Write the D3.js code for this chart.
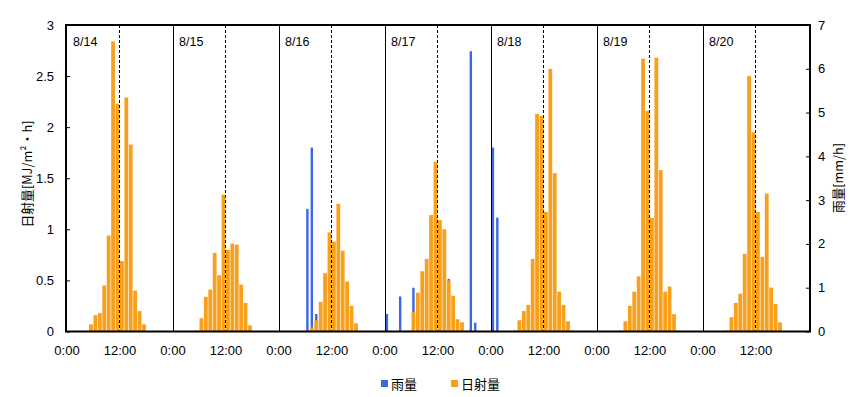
<!DOCTYPE html>
<html><head><meta charset="utf-8">
<script src="https://cdn.jsdelivr.net/npm/d3@7"></script>
<style>
html,body{margin:0;padding:0;background:#fff;}
svg{display:block;}
text{font-family:"Liberation Sans",Arial,sans-serif;fill:#000;}
.jp{font-family:"Noto Sans CJK JP","Noto Sans",sans-serif;}
</style></head>
<body>
<svg id="chart" width="865" height="397"></svg>
<script>
// ---- data ----
const days = ["8/14","8/15","8/16","8/17","8/18","8/19","8/20"];
const solarStartHour = 5; // first value in each day's array is 5:00
const solar_0814 = [0.07,0.16,0.18,0.45,0.94,2.84,2.23,0.69,2.29,1.83,0.40,0.20,0.07,0];
const solar_0815 = [0.01,0.13,0.34,0.41,0.77,0.55,1.34,0.80,0.86,0.85,0.46,0.28,0.06,0];
const solar_0816 = [0,0,0.04,0.11,0.29,0.57,0.97,0.88,1.25,0.79,0.49,0.25,0.08,0];
const solar_0817 = [0.01,0.19,0.38,0.59,0.71,1.14,1.66,1.09,1.00,0.50,0.35,0.12,0.09,0.01];
const solar_0818 = [0.01,0.11,0.20,0.26,0.71,2.13,2.11,1.17,2.57,1.55,0.39,0.26,0.10,0.01];
const solar_0819 = [0.01,0.10,0.25,0.39,0.54,2.67,2.16,1.11,2.68,1.58,0.39,0.44,0.17,0.01];
const solar_0820 = [0.01,0.14,0.28,0.37,0.76,2.50,1.95,1.17,0.73,1.35,0.43,0.27,0.09,0];
const rainDay  = ["8/16","8/16","8/16","8/17","8/17","8/17","8/17","8/17","8/17","8/18","8/18"];
const rainHour = [6,7,8,0,3,6,14,19,20,0,1];
const rainMm   = [2.8,4.2,0.4,0.4,0.8,1.0,1.2,6.4,0.2,4.2,2.6];
const leftTicks  = [0,0.5,1,1.5,2,2.5,3];
const leftTickLabels = ["0","0.5","1","1.5","2","2.5","3"];
const rightTicks = [0,1,2,3,4,5,6,7];
const xTickLabels = ["0:00","12:00"];
const leftTitle = "日射量[MJ/m²・h]";
const rightTitle = "雨量[mm/h]";
const legendLabels = ["雨量","日射量"];

const solarAll = [solar_0814,solar_0815,solar_0816,solar_0817,solar_0818,solar_0819,solar_0820];
const solarData = [];
solarAll.forEach((arr,d)=>arr.forEach((v,i)=>solarData.push({t:d*24+solarStartHour+i, v})));
const rainData = rainMm.map((v,i)=>({t:days.indexOf(rainDay[i])*24+rainHour[i], v}));

// ---- layout ----
const svg = d3.select("#chart");
const x = d3.scaleLinear().domain([0,168]).range([67,809]);
const yL = d3.scaleLinear().domain([0,3]).range([331.5,25]);
const yR = d3.scaleLinear().domain([0,7]).range([331.5,25]);
const orange = "#F8A01C", blue = "#3A68E2";

// bars (rain behind, solar in front)
svg.append("g").selectAll("rect").data(rainData).join("rect")
  .attr("x", d=>x(d.t+0.5)-1.2-0.3).attr("width",2.4)
  .attr("y", d=>yR(d.v)).attr("height", d=>yR(0)-yR(d.v))
  .attr("fill", blue);
svg.append("g").selectAll("rect").data(solarData.filter(d=>d.v>0)).join("rect")
  .attr("x", d=>x(d.t+0.5)-1.9-0.3).attr("width",3.8)
  .attr("y", d=>yL(d.v)).attr("height", d=>yL(0)-yL(d.v))
  .attr("fill", orange);

// day separators and noon dashed lines
const g = svg.append("g");
days.forEach((dname,d)=>{
  if(d>0) g.append("line").attr("x1",Math.round(x(d*24))+0.5).attr("x2",Math.round(x(d*24))+0.5)
    .attr("y1",25).attr("y2",331.5).attr("stroke","#000").attr("stroke-width",1);
  const xn = Math.round(x(d*24+12))-0.5;
  g.append("line").attr("x1",xn).attr("x2",xn).attr("y1",25).attr("y2",331.5)
    .attr("stroke","#000").attr("stroke-width",1).attr("stroke-dasharray","3,2");
  g.append("text").attr("x",x(d*24)+6).attr("y",46).attr("font-size",12.5).text(dname);
});

// frame
svg.append("rect").attr("x",66).attr("y",25).attr("width",744).attr("height",306.5)
  .attr("fill","none").attr("stroke","#000").attr("stroke-width",2);

// left axis
const la = svg.append("g").attr("transform","translate(67,0)")
  .call(d3.axisRight(yL).tickValues(leftTicks).tickSize(3).tickFormat(""));
la.select(".domain").remove();
la.selectAll("line").attr("stroke","#000");
leftTicks.forEach((t,i)=>svg.append("text").attr("x",54).attr("y",yL(t)).attr("dy","0.35em")
  .attr("text-anchor","end").attr("font-size",13).text(leftTickLabels[i]));

// right axis
const ra = svg.append("g").attr("transform","translate(809,0)")
  .call(d3.axisLeft(yR).tickValues(rightTicks).tickSize(3).tickFormat(""));
ra.select(".domain").remove();
ra.selectAll("line").attr("stroke","#000");
rightTicks.forEach(t=>svg.append("text").attr("x",818).attr("y",yR(t)).attr("dy","0.35em")
  .attr("text-anchor","start").attr("font-size",13).text(d3.format("d")(t)));

// x labels
const xt = d3.range(0,14).map(i=>i*12);
xt.forEach((t,i)=>svg.append("text").attr("x",x(t)).attr("y",355)
  .attr("text-anchor","middle").attr("font-size",13).text(xTickLabels[i%2]));

// axis titles
svg.append("text").attr("class","jp").attr("transform","translate(32,174) rotate(-90)")
  .attr("text-anchor","middle").attr("font-size",13).attr("textLength",107).attr("lengthAdjust","spacingAndGlyphs").text(leftTitle);
svg.append("text").attr("class","jp").attr("transform","translate(843,178) rotate(-90)")
  .attr("text-anchor","middle").attr("font-size",13).attr("textLength",70).attr("lengthAdjust","spacingAndGlyphs").text(rightTitle);

// legend
const leg = [{c:blue,l:legendLabels[0],x:381},{c:orange,l:legendLabels[1],x:451}];
leg.forEach(e=>{
  svg.append("rect").attr("x",e.x).attr("y",380).attr("width",7).attr("height",7).attr("fill",e.c);
  svg.append("text").attr("class","jp").attr("x",e.x+10).attr("y",388.5).attr("font-size",13).text(e.l);
});
</script>
</body></html>
